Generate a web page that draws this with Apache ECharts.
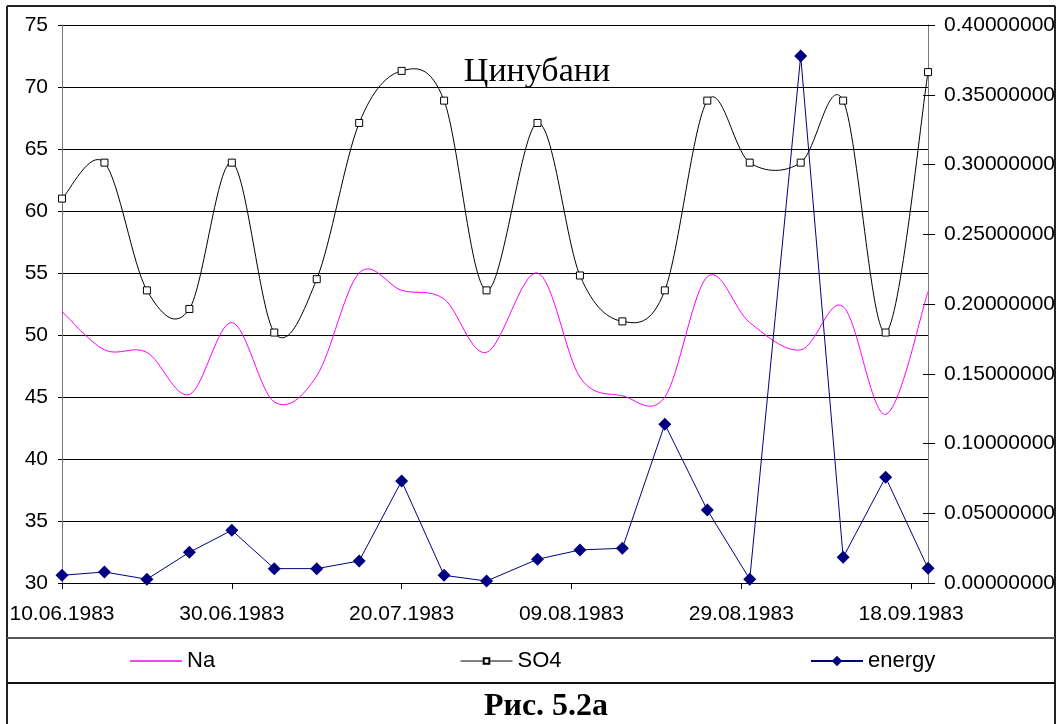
<!DOCTYPE html>
<html>
<head>
<meta charset="utf-8">
<script src="https://cdn.jsdelivr.net/npm/echarts@6/dist/echarts.min.js"></script>
<style>
  html, body { margin: 0; padding: 0; background: #fff; }
  #chart { width: 1058px; height: 724px; }
</style>
</head>
<body>
<div id="chart"></div>
<script>
// Sampling dates (dd.mm.yyyy)
const sampleDates = [
  '10.06.1983', '15.06.1983', '20.06.1983', '25.06.1983', '30.06.1983',
  '05.07.1983', '10.07.1983', '15.07.1983', '20.07.1983', '25.07.1983',
  '30.07.1983', '05.08.1983', '10.08.1983', '15.08.1983', '20.08.1983',
  '25.08.1983', '30.08.1983', '05.09.1983', '10.09.1983', '15.09.1983',
  '20.09.1983'
];

// Na (left axis)
const naValues = [
  51.9, 48.8, 48.6, 45.2, 51.0, 44.6, 46.7, 55.0, 53.6, 52.9,
  48.6, 55.0, 46.6, 45.1, 45.0, 54.7, 51.0, 48.8, 52.3, 43.6,
  53.5
];

// SO4 (left axis)
const so4Values = [
  61.0, 63.9, 53.6, 52.1, 63.9, 50.2, 54.5, 67.1, 71.3, 68.9,
  53.6, 67.1, 54.8, 51.1, 53.6, 68.9, 63.9, 63.9, 68.9, 50.2,
  71.2
];

// energy (right axis)
const energyValues = [
  0.0055, 0.0079, 0.0027, 0.0220, 0.0378, 0.0103, 0.0103, 0.0158, 0.0731, 0.0055,
  0.0014, 0.0170, 0.0237, 0.0249, 0.1138, 0.0523, 0.0027, 0.3778, 0.0184, 0.0758,
  0.0105
];

// Dates labelled on the time axis
const dateTicks = ['10.06.1983', '30.06.1983', '20.07.1983', '09.08.1983', '29.08.1983', '18.09.1983'];

function parseDate(s) {
  const [d, m, y] = s.split('.').map(Number);
  return Date.UTC(y, m - 1, d);
}
const DAY = 86400000;
const t0 = parseDate(sampleDates[0]);
const dayOf = s => (parseDate(s) - t0) / DAY;
function fmtDay(v) {
  const dt = new Date(t0 + Math.round(v) * DAY);
  const p = n => String(n).padStart(2, '0');
  return p(dt.getUTCDate()) + '.' + p(dt.getUTCMonth() + 1) + '.' + dt.getUTCFullYear();
}

const xEnd = dayOf(sampleDates[sampleDates.length - 1]);
const tickDays = dateTicks.map(dayOf);
const pairs = vals => sampleDates.map((d, i) => [dayOf(d), vals[i]]);

// Smoothed line: one cubic Bezier per interval, Catmull-Rom tangents,
// every point placed through the grid's own scales (api.coord).
function smoothRenderer(values, color) {
  const n = values.length;
  return function (params, api) {
    const i = params.dataIndex;
    if (i >= n - 1) return null;
    const P = k => {
      const j = Math.max(0, Math.min(n - 1, k));
      return api.coord([dayOf(sampleDates[j]), values[j]]);
    };
    const p0 = P(i - 1), p1 = P(i), p2 = P(i + 1), p3 = P(i + 2);
    return {
      type: 'bezierCurve',
      shape: {
        x1: p1[0], y1: p1[1], x2: p2[0], y2: p2[1],
        cpx1: p1[0] + (p2[0] - p0[0]) / 6, cpy1: p1[1] + (p2[1] - p0[1]) / 6,
        cpx2: p2[0] - (p3[0] - p1[0]) / 6, cpy2: p2[1] - (p3[1] - p1[1]) / 6
      },
      style: { stroke: color, fill: 'none', lineWidth: 1 }
    };
  };
}

const SANS = 'Liberation Sans, Arial, sans-serif';
const SERIF = 'Liberation Serif, Times New Roman, serif';

const chart = echarts.init(document.getElementById('chart'), null, { renderer: 'canvas' });

const legendBase = {
  orient: 'horizontal',
  padding: 0,
  itemGap: 0,
  itemWidth: 52,
  selectedMode: false,
  textStyle: { fontFamily: SANS, fontSize: 22, color: '#000', padding: [0, 0, 0, 0] }
};

chart.setOption({
  animation: false,
  backgroundColor: '#fff',
  grid: { left: 62, right: 128, top: 25, bottom: 141, containLabel: false },
  legend: [
    Object.assign({}, legendBase, { data: [{ name: 'Na', icon: 'rect' }], left: 130, top: 650, itemHeight: 1.5 }),
    Object.assign({}, legendBase, {
      data: ['SO4'], left: 460, top: 650, itemHeight: 7,
      lineStyle: { color: '#000', width: 1, opacity: 1 }
    }),
    Object.assign({}, legendBase, { data: ['energy'], left: 810, top: 650, itemHeight: 13 })
  ],
  xAxis: {
    type: 'value',
    min: 0,
    max: xEnd,
    axisLine: { show: true, lineStyle: { color: '#000', width: 1 } },
    axisTick: { show: true, length: 6, inside: false, customValues: tickDays, lineStyle: { color: '#000' } },
    axisLabel: {
      customValues: tickDays,
      formatter: v => fmtDay(v),
      fontFamily: SANS, fontSize: 21, color: '#000', margin: 21
    },
    splitLine: { show: false }
  },
  yAxis: [
    {
      type: 'value', position: 'left',
      min: 30, max: 75, interval: 5,
      axisLine: { show: true, lineStyle: { color: '#777', width: 1 } },
      axisTick: { show: true, length: 4, lineStyle: { color: '#000' } },
      axisLabel: { fontFamily: SANS, fontSize: 21, color: '#000', margin: 14 },
      splitLine: { show: true, lineStyle: { color: '#000', width: 1 } }
    },
    {
      type: 'value', position: 'right',
      min: 0, max: 0.4, interval: 0.05,
      axisLine: { show: true, lineStyle: { color: '#777', width: 1 } },
      axisTick: { show: true, length: 7, lineStyle: { color: '#000' } },
      axisLabel: {
        formatter: v => v.toFixed(8),
        fontFamily: SANS, fontSize: 21, color: '#000', margin: 16
      },
      splitLine: { show: false }
    },
    {
      // inner half of the crossing ticks on the right axis
      type: 'value', position: 'right',
      min: 0, max: 0.4, interval: 0.05,
      axisLine: { show: false },
      axisTick: { show: true, inside: true, length: 5, lineStyle: { color: '#000' } },
      axisLabel: { show: false },
      splitLine: { show: false }
    }
  ],
  series: [
    {
      name: 'Na curve', type: 'custom', yAxisIndex: 0, silent: true,
      data: pairs(naValues),
      encode: { x: 0, y: 1 },
      renderItem: smoothRenderer(naValues, '#ff00ff'),
      z: 2
    },
    {
      name: 'SO4 curve', type: 'custom', yAxisIndex: 0, silent: true,
      data: pairs(so4Values),
      encode: { x: 0, y: 1 },
      renderItem: smoothRenderer(so4Values, '#000'),
      z: 3
    },
    {
      name: 'Na', type: 'line', yAxisIndex: 0,
      data: pairs(naValues),
      symbol: 'none',
      lineStyle: { color: '#ff00ff', width: 1, opacity: 0 },
      itemStyle: { color: '#ff00ff' },
      z: 2
    },
    {
      name: 'SO4', type: 'line', yAxisIndex: 0,
      data: pairs(so4Values),
      symbol: 'rect', symbolSize: 7,
      lineStyle: { color: '#000', width: 1, opacity: 0 },
      itemStyle: { color: '#fff', borderColor: '#000', borderWidth: 1 },
      z: 3
    },
    {
      name: 'energy', type: 'line', yAxisIndex: 1,
      data: pairs(energyValues),
      symbol: 'diamond', symbolSize: 13,
      lineStyle: { color: '#000080', width: 1 },
      itemStyle: { color: '#000080' },
      z: 4
    }
  ],
  graphic: [
    {
      type: 'text',
      style: {
        text: 'Цинубани', x: 537, y: 72,
        font: '34px ' + SERIF, fill: '#000',
        align: 'center', verticalAlign: 'middle'
      },
      z: 10
    },
    {
      type: 'text',
      style: {
        text: 'Рис. 5.2а', x: 546, y: 707,
        font: 'bold 32px ' + SERIF, fill: '#000',
        align: 'center', verticalAlign: 'middle'
      },
      z: 10
    },
    // outer frame and row separators
    { type: 'line', shape: { x1: 7, y1: 6, x2: 1055, y2: 6 }, style: { stroke: '#222', lineWidth: 2 }, z: 20 },
    { type: 'line', shape: { x1: 7, y1: 6, x2: 7, y2: 730 }, style: { stroke: '#222', lineWidth: 2 }, z: 20 },
    { type: 'line', shape: { x1: 1055, y1: 6, x2: 1055, y2: 730 }, style: { stroke: '#222', lineWidth: 2 }, z: 20 },
    { type: 'line', shape: { x1: 7, y1: 638, x2: 1055, y2: 638 }, style: { stroke: '#555', lineWidth: 2 }, z: 20 },
    { type: 'line', shape: { x1: 7, y1: 683, x2: 1055, y2: 683 }, style: { stroke: '#111', lineWidth: 2 }, z: 20 }
  ]
});
</script>
</body>
</html>
